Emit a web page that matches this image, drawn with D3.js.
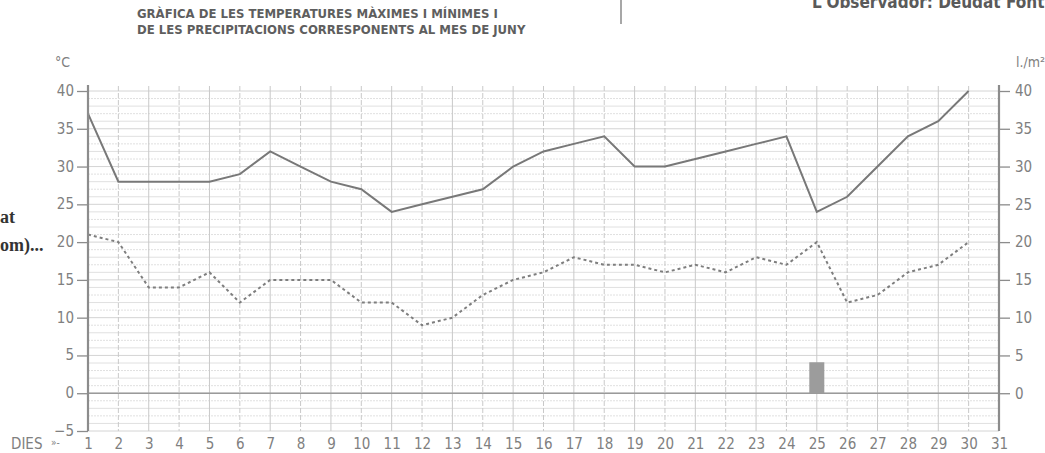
<!DOCTYPE html>
<html>
<head>
<meta charset="utf-8">
<script src="https://cdn.jsdelivr.net/npm/d3@7"></script>
<style>
  body { margin: 0; background: white; }
  svg { display: block; }
  .narrow { font-family: "Liberation Sans Narrow", "DejaVu Sans Condensed", "Arial Narrow", sans-serif; }
  .tick text { font-family: "Liberation Sans Narrow", "DejaVu Sans Condensed", sans-serif; font-size: 15px; fill: #808080; }
</style>
</head>
<body>
<svg width="1045" height="453"></svg>
<script>
const svg = d3.select('svg');

// data
const days = d3.range(1, 32);
const maxTemps = [37, 28, 28, 28, 28, 29, 32, 30, 28, 27, 24, 25, 26, 27, 30,
                  32, 33, 34, 30, 30, 31, 32, 33, 34, 24, 26, 30, 34, 36, 40];
const minTemps = [21, 20, 14, 14, 16, 12, 15, 15, 15, 12, 12, 9, 10, 13, 15,
                  16, 18, 17, 17, 16, 17, 16, 18, 17, 20, 12, 13, 16, 17, 20];
const rainDays = [25];
const rainValues = [4.1];
const leftTicks = [-5, 0, 5, 10, 15, 20, 25, 30, 35, 40];
const rightTicks = [0, 5, 10, 15, 20, 25, 30, 35, 40];
const titleLines = ['GRÀFICA DE LES TEMPERATURES MÀXIMES I MÍNIMES I',
                    'DE LES PRECIPITACIONS CORRESPONENTS AL MES DE JUNY'];

const plotLeft = 88, plotRight = 999, plotTop = 91, plotBottom = 431;

const x = d3.scaleLinear().domain([1, 31]).range([plotLeft, plotRight]);
const y = d3.scaleLinear().domain([-5, 40]).range([plotBottom, plotTop]);

// grid
const grid = svg.append('g');
grid.selectAll('line.h').data(d3.range(-5, 41))
  .enter().append('line')
  .attr('x1', plotLeft).attr('x2', plotRight)
  .attr('y1', d => y(d)).attr('y2', d => y(d))
  .attr('stroke', d => d % 5 === 0 ? '#cfcfcf' : '#dcdcdc')
  .attr('stroke-width', 0.9)
  .attr('stroke-dasharray', d => d % 5 === 0 ? null : (d % 2 ? '2,1' : null));
grid.selectAll('line.v').data(days)
  .enter().append('line')
  .attr('x1', d => x(d)).attr('x2', d => x(d))
  .attr('y1', plotTop - 5).attr('y2', plotBottom)
  .attr('stroke', '#c9c9c9')
  .attr('stroke-width', 1)
  .attr('stroke-dasharray', d => d % 2 ? null : '5,2');
// zero line
grid.append('line')
  .attr('x1', plotLeft).attr('x2', plotRight)
  .attr('y1', y(0)).attr('y2', y(0))
  .attr('stroke', '#9a9a9a').attr('stroke-width', 1.6);

// precipitation
svg.selectAll('rect.rain').data(rainDays)
  .enter().append('rect')
  .attr('x', d => x(d) - 7.5)
  .attr('width', 15)
  .attr('y', (d, i) => y(rainValues[i]))
  .attr('height', (d, i) => y(0) - y(rainValues[i]))
  .attr('fill', '#9c9c9c');

// temperature lines
const line = d3.line().x((d, i) => x(days[i])).y(d => y(d));
svg.append('path').datum(maxTemps)
  .attr('d', line)
  .attr('fill', 'none').attr('stroke', '#787878').attr('stroke-width', 2);
svg.append('path').datum(minTemps)
  .attr('d', line)
  .attr('fill', 'none').attr('stroke', '#7e7e7e').attr('stroke-width', 2)
  .attr('stroke-dasharray', '3,3');

// axes
const leftAxis = svg.append('g')
  .attr('transform', `translate(${plotLeft},0)`)
  .call(d3.axisLeft(y).tickValues(leftTicks).tickSize(11).tickPadding(3).tickSizeOuter(0));
const rightAxis = svg.append('g')
  .attr('transform', `translate(${plotRight},0)`)
  .call(d3.axisRight(y).tickValues(rightTicks).tickSize(11).tickPadding(5).tickSizeOuter(0));
[leftAxis, rightAxis].forEach(g => {
  g.select('.domain').attr('stroke', '#8c8c8c').attr('stroke-width', 2.2)
    .attr('d', `M0,${plotTop - 6}V${plotBottom}`);
  g.selectAll('.tick line').attr('stroke', '#8c8c8c').attr('stroke-width', 1.3);
});
leftAxis.selectAll('.tick text').attr('dy', '0.3em');

const xAxis = svg.append('g')
  .attr('transform', `translate(0,${plotBottom})`)
  .call(d3.axisBottom(x).tickValues(days).tickSize(0).tickPadding(7));
xAxis.select('.domain').remove();

// labels
svg.append('text').attr('class', 'narrow')
  .attr('x', 11).attr('y', 449)
  .attr('font-size', 15).attr('fill', '#808080')
  .text('DIES');
svg.append('text').attr('class', 'narrow')
  .attr('x', 51).attr('y', 446)
  .attr('font-size', 10).attr('fill', '#808080')
  .text('»-');

svg.append('text').attr('class', 'narrow')
  .attr('x', 55).attr('y', 67)
  .attr('font-size', 14).attr('fill', '#808080')
  .text('°C');
svg.append('text').attr('class', 'narrow')
  .attr('x', 1016).attr('y', 67)
  .attr('font-size', 14).attr('fill', '#808080')
  .text('l./m²');

svg.selectAll('text.title').data(titleLines)
  .enter().append('text')
  .attr('class', 'narrow')
  .attr('x', 137)
  .attr('y', (d, i) => 18 + i * 16)
  .attr('font-size', 13).attr('font-weight', 'bold').attr('fill', '#5e5e5e')
  .text(d => d);

// separator and cut header text
svg.append('line')
  .attr('x1', 621).attr('x2', 621).attr('y1', 0).attr('y2', 24)
  .attr('stroke', '#8a8a8a').attr('stroke-width', 1.5);
svg.append('text').attr('class', 'narrow')
  .attr('x', 812).attr('y', 8)
  .attr('font-size', 17).attr('font-weight', 'bold').attr('fill', '#5a5a5a')
  .text("L'Observador: Deudat Font");

// bits of the neighbouring page
svg.append('text')
  .attr('x', 0).attr('y', 223)
  .attr('font-family', '"Liberation Serif", "DejaVu Serif", serif')
  .attr('font-size', 18).attr('font-weight', 'bold').attr('fill', '#333')
  .text('at');
svg.append('text')
  .attr('x', 0).attr('y', 251)
  .attr('font-family', '"Liberation Serif", "DejaVu Serif", serif')
  .attr('font-size', 18).attr('font-weight', 'bold').attr('fill', '#333')
  .text('om)...');
</script>
</body>
</html>
